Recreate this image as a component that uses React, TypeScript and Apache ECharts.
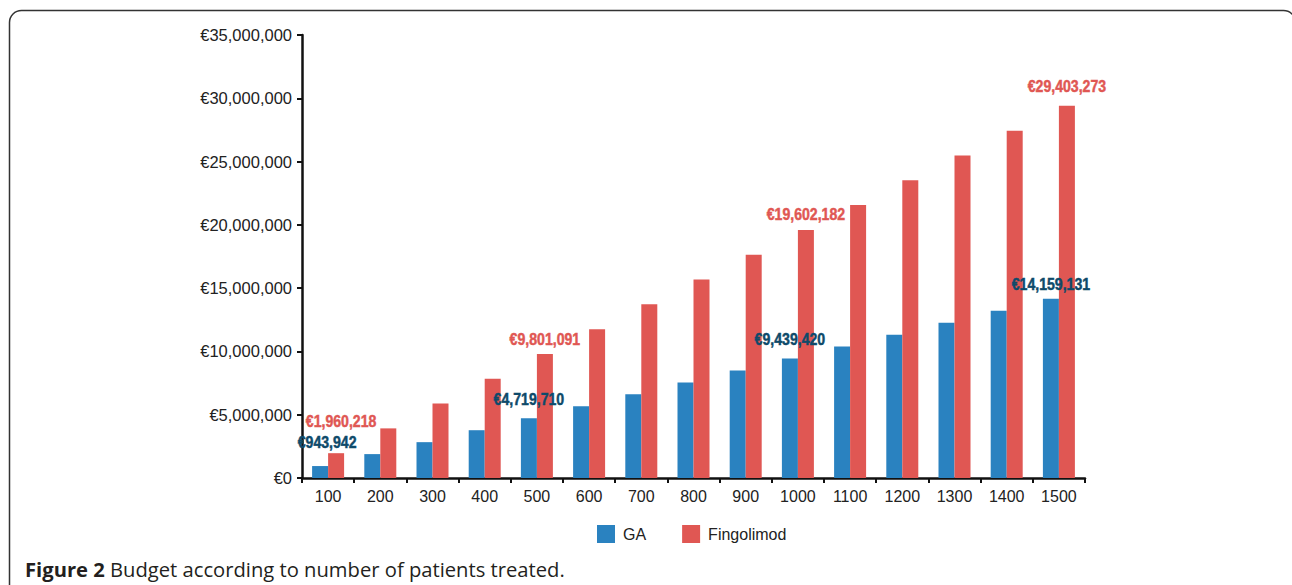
import React, { useEffect, useRef } from "react";
import * as echarts from "echarts";

const categories = ["100", "200", "300", "400", "500", "600", "700", "800", "900", "1000", "1100", "1200", "1300", "1400", "1500"];
const gaValues = [943942, 1887884, 2831826, 3775768, 4719710, 5663652, 6607594, 7551536, 8495478, 9439420, 10383362, 11327304, 12271246, 13215188, 14159131];
const fingolimodValues = [1960218, 3920436, 5880655, 7840873, 9801091, 11761309, 13721527, 15681746, 17641964, 19602182, 21562400, 23522618, 25482837, 27443055, 29403273];
const labelledIndices = [0, 4, 9, 14];
const yTicks = { min: 0, max: 35000000, interval: 5000000 };
const seriesNames = ["GA", "Fingolimod"];
const captionBold = "Figure 2";
const captionText = "Budget according to number of patients treated.";

const BLUE = "#2a82c0";
const RED = "#e05753";
const BLUE_LABEL = "#0e4a6a";
const BAR_W = 16;

// label centre offsets (px) relative to the top centre of each bar
const gaOffsets: Record<number, number[]> = { 0: [7, -24], 4: [0, -19], 9: [0, -20], 14: [0, -15] };
const fgOffsets: Record<number, number[]> = { 0: [5, -32], 4: [0, -15], 9: [0, -16], 14: [0, -20] };

const euro = (v: number) => "€" + Math.round(v).toLocaleString("en-US");

// [categoryIndex, value, seriesIndex]
const labelData: number[][] = [];
labelledIndices.forEach((i) => {
  labelData.push([i, gaValues[i], 0]);
  labelData.push([i, fingolimodValues[i], 1]);
});

export default function App() {
  const ref = useRef<HTMLDivElement>(null);
  useEffect(() => {
    if (!ref.current) return;
    const chart = echarts.init(ref.current, null, { renderer: "svg" });
    const axisFont = "'Liberation Sans', Arial, Helvetica, sans-serif";
    const captionFont = "'Open Sans', 'Noto Sans', sans-serif";
    chart.setOption({
      animation: false,
      backgroundColor: "#ffffff",
      grid: { left: 302, right: 207, top: 35, bottom: 107, containLabel: false },
      legend: {
        data: seriesNames,
        left: 597,
        top: 525,
        icon: "rect",
        itemWidth: 18,
        itemHeight: 18,
        itemGap: 36,
        padding: 0,
        textStyle: { fontSize: 16, color: "#222", fontFamily: axisFont, padding: [0, 0, 0, 3] },
      },
      xAxis: {
        type: "category",
        data: categories,
        boundaryGap: true,
        axisLine: { lineStyle: { color: "#111", width: 2.5 } },
        axisTick: { show: true, alignWithLabel: false, length: 5, lineStyle: { color: "#111", width: 2 } },
        axisLabel: { color: "#222", fontSize: 16, fontFamily: axisFont, margin: 10 },
      },
      yAxis: {
        type: "value",
        min: yTicks.min,
        max: yTicks.max,
        interval: yTicks.interval,
        splitLine: { show: false },
        axisLine: { show: true, lineStyle: { color: "#111", width: 2.5 } },
        axisTick: { show: true, length: 5, lineStyle: { color: "#111", width: 2 } },
        axisLabel: { color: "#222", fontSize: 16.5, fontFamily: axisFont, margin: 10, formatter: (v: number) => euro(v) },
      },
      series: [
        {
          name: seriesNames[0],
          type: "bar",
          barWidth: BAR_W,
          barGap: "0%",
          itemStyle: { color: BLUE },
          data: gaValues,
        },
        {
          name: seriesNames[1],
          type: "bar",
          barWidth: BAR_W,
          barGap: "0%",
          itemStyle: { color: RED },
          data: fingolimodValues,
        },
        {
          name: "labels",
          type: "custom",
          silent: true,
          clip: false,
          z: 5,
          data: labelData,
          renderItem: (params: any, api: any) => {
            const idx = api.value(0);
            const val = api.value(1);
            const s = api.value(2);
            const pt = api.coord([idx, val]);
            const off = s === 0 ? gaOffsets[idx] : fgOffsets[idx];
            const barCx = pt[0] + (s === 0 ? -BAR_W / 2 : BAR_W / 2);
            const color = s === 0 ? BLUE_LABEL : RED;
            return {
              type: "text",
              x: barCx + off[0],
              y: pt[1] + off[1],
              scaleX: 0.83,
              style: {
                text: euro(val),
                fill: color,
                stroke: color,
                lineWidth: 0.5,
                fontFamily: axisFont,
                fontWeight: "bold",
                fontSize: 17,
                align: "center",
                verticalAlign: "middle",
              },
            };
          },
        },
      ],
      graphic: [
        {
          type: "rect",
          shape: { x: 9.5, y: 10.5, width: 1286, height: 700, r: 12 },
          style: { fill: "none", stroke: "#333", lineWidth: 1.5 },
          silent: true,
        },
        {
          type: "text",
          x: 25,
          y: 569,
          style: {
            text: "{b|" + captionBold + "} " + captionText,
            fontFamily: captionFont,
            fontSize: 20.2,
            fill: "#231f20",
            verticalAlign: "middle",
            rich: {
              b: { fontWeight: "bold", fontFamily: captionFont, fontSize: 20.2, fill: "#231f20" },
            },
          },
        },
      ],
    });
    return () => chart.dispose();
  }, []);
  return <div ref={ref} style={{ position: "fixed", left: 0, top: 0, width: 1292, height: 585 }} />;
}
